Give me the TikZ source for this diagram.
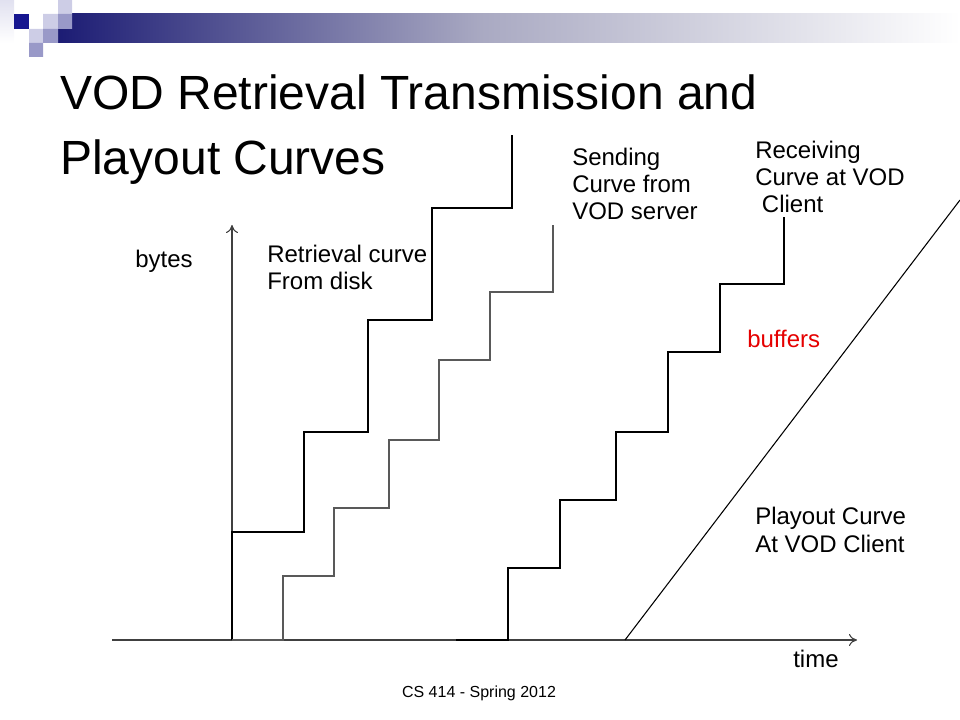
\documentclass[tikz,border=0pt]{standalone}
\usepackage{fontspec}
\setmainfont{Liberation Sans}
\usetikzlibrary{arrows.meta}

\definecolor{navy}{HTML}{1C1C74}
\definecolor{bandmid}{HTML}{A9A9C2}
\definecolor{sqlight}{HTML}{CDCDE6}
\definecolor{sqmid}{HTML}{9999C8}

\begin{document}
\begin{tikzpicture}[x=0.75pt, y=-0.75pt, line join=miter,
    lbl/.style={inner sep=0, anchor=base west, align=left, font=\fontsize{18}{20.6}\selectfont},
    axis/.style={draw=black!75, line width=0.8pt, -{To[length=6pt,width=9pt]}},
    stairs/.style={line width=1.1pt}]
\useasboundingbox (0,0) rectangle (960,720);
% title band and squares
\shade[left color=navy, right color=bandmid] (58,14) rectangle (481,43);
\shade[left color=bandmid, right color=white] (480,14) rectangle (960,43);
\shade[top color=sqlight!60, bottom color=white] (0,0) rectangle (14,43);
\fill[navy!80!blue] (14,14) rectangle (29,29);
\fill[sqlight] (43,14) rectangle (58,29) (58,0) rectangle (72,14) (29,29) rectangle (43,43);
\fill[sqmid] (58,14) rectangle (72,29) (43,29) rectangle (58,43) (29,43) rectangle (43,57);

\node[lbl, font=\fontsize{36}{48.75}\selectfont] (title) at (60,175) {VOD Retrieval Transmission and\\Playout Curves};

% axes
\coordinate (o) at (232,640); \coordinate (ytop) at (232,225);
\coordinate (xl) at (112,640); \coordinate (xr) at (857,640);
\draw[axis] (o) -- (ytop);
\draw[axis] (xl) -- (xr);

% curves
\draw[stairs] (o) |- (304,532) |- (368,432) |- (432,320) |- (512,208) -- (512,135);% retrieval
\draw[stairs, black!65] (o) -- (283,640) |- (334,576) |- (389,508) |- (439,440) |- (490,360) |- (553,292) -- (553,225);% sending
\draw[stairs] (456,640) -- (508,640) |- (560,568) |- (616,500) |- (668,432) |- (720,352) |- (784,284) -- (784,217);% receiving
\draw[line width=0.8pt] (625,640) -- (960,200);% playout

\node[lbl] (ylab) at (135,268) {bytes};
\node[lbl] (retr) at (267,290) {Retrieval curve\\From disk};
\node[lbl] (send) at (572,220) {Sending\\Curve from\\VOD server};
\node[lbl] (recv) at (755,213) {Receiving\\Curve at VOD\\\ Client};
\node[lbl, text=red!90!black] (buf) at (747,347) {buffers};
\node[lbl] (play) at (755,552) {Playout Curve\\At VOD Client};
\node[lbl] (xlab) at (793,667) {time};
\node[inner sep=0, anchor=base, font=\fontsize{12}{14}\selectfont] (foot) at (479,697) {CS 414 - Spring 2012};
\end{tikzpicture}
\end{document}
